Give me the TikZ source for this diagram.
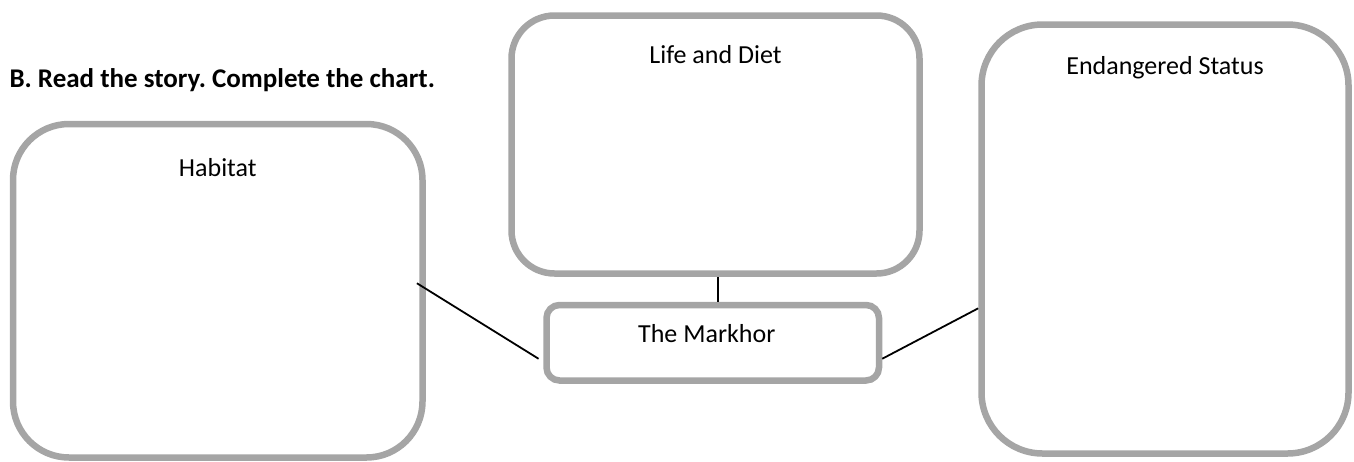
\documentclass[tikz,border=0pt]{standalone}
\usepackage{fontspec}
\setmainfont{Carlito}
\usetikzlibrary{positioning}
\definecolor{boxgray}{HTML}{A5A5A5}
\frenchspacing

\begin{document}
\begin{tikzpicture}[
    x=1pt, y=-1pt,
    node distance=25pt,
    every node/.style={font=\fontsize{26}{31}\selectfont},
    box/.style={rectangle, draw=boxgray, line width=6.5pt, fill=white, inner sep=0pt},
    link/.style={draw=black, line width=1.8pt}
]
\useasboundingbox (0,0) rectangle (1354,461);

\node[anchor=base west, inner sep=0pt, font=\bfseries\fontsize{27}{32}\selectfont] (task) at (9.3,87.3) {B. Read the story. Complete the chart.};

\node[box, minimum width=408pt, minimum height=258pt, rounded corners=43pt,
      label={[anchor=base, yshift=-51.3pt]north:Life and Diet}] (life) at (715.5,144.5) {};
\node[box, below=25pt of life, xshift=-2.75pt, minimum width=332.5pt, minimum height=75.5pt, rounded corners=13pt,
      label={[anchor=base, yshift=-40.7pt, xshift=-6pt]north:The Markhor}] (mark) {};
\node[box, minimum width=409.5pt, minimum height=333.5pt, rounded corners=56pt,
      label={[anchor=base, yshift=-55.7pt]north:Habitat}] (hab) at (217.75,290.75) {};
\node[box, minimum width=367pt, minimum height=429pt, rounded corners=61pt,
      label={[anchor=base, yshift=-53.3pt]north:Endangered Status}] (endg) at (1165,239) {};

\draw[link] ([xshift=2.5pt]life.south) -- ([xshift=2.5pt]life.south |- mark.north);
\draw[link] ([xshift=-8.8pt, yshift=7.5pt]hab.east) -- ([xshift=-4.7pt, yshift=-16pt]mark.west);
\draw[link] ([yshift=-16pt]mark.east) -- ([yshift=-69.3pt]endg.west);

\end{tikzpicture}
\end{document}
